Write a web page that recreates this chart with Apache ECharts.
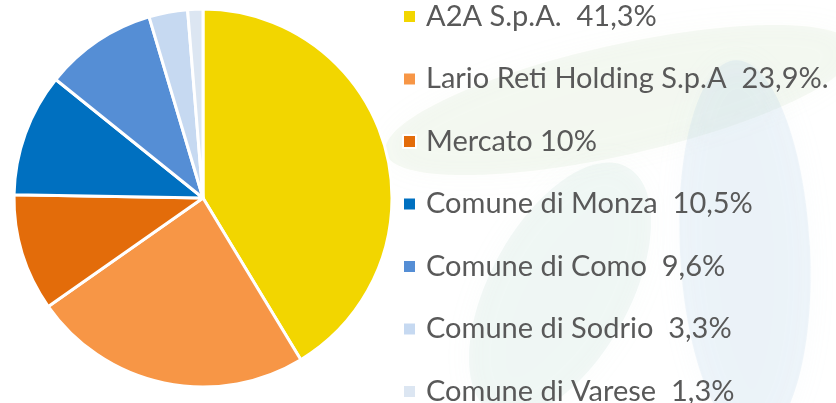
<!DOCTYPE html>
<html>
<head>
<meta charset="utf-8">
<script src="https://cdn.jsdelivr.net/npm/echarts@6/dist/echarts.min.js"></script>
<style>
    html, body { margin:0; padding:0; background:#fff; }
    #main { width:836px; height:403px; }
</style>
</head>
<body>
<div id="main"></div>
<script>
    // dati della composizione societaria
    var categories = [
        'A2A S.p.A.  41,3%',
        'Lario Reti Holding S.p.A  23,9%.',
        'Mercato 10%',
        'Comune di Monza  10,5%',
        'Comune di Como  9,6%',
        'Comune di Sodrio  3,3%',
        'Comune di Varese  1,3%'
    ];
    var values = [41.3, 23.9, 10, 10.5, 9.6, 3.3, 1.3];
    var colors = ['#F2D600', '#F79646', '#E36C0A', '#0070C0', '#558ED5', '#C6D9F1', '#DCE6F2'];

    var myChart = echarts.init(document.getElementById('main'));
    var pieData = [];
    for (var i = 0; i < categories.length; i++) {
        pieData.push({ name: categories[i], value: values[i] });
    }
    myChart.setOption({
        animation: false,
        color: colors,
        // filigrana tenue sullo sfondo
        graphic: [
            { type: 'ellipse', x: 620, y: 100, rotation: 0.22, z: 0, shape: { cx: 0, cy: 0, rx: 240, ry: 55 }, style: { fill: 'rgba(200,222,190,0.18)', shadowBlur: 30, shadowColor: 'rgba(200,222,190,0.3)' } },
            { type: 'ellipse', x: 560, y: 290, rotation: -0.5, z: 0, shape: { cx: 0, cy: 0, rx: 70, ry: 140 }, style: { fill: 'rgba(185,215,205,0.18)', shadowBlur: 30, shadowColor: 'rgba(185,215,205,0.3)' } },
            { type: 'ellipse', x: 745, y: 250, rotation: 0.05, z: 0, shape: { cx: 0, cy: 0, rx: 65, ry: 190 }, style: { fill: 'rgba(180,210,232,0.22)', shadowBlur: 30, shadowColor: 'rgba(180,210,232,0.3)' } }
        ],
        legend: {
            orient: 'vertical',
            left: 402,
            top: 2,
            height: 420,
            padding: 0,
            icon: 'rect',
            itemWidth: 13,
            itemHeight: 13,
            itemGap: 33.5,
            selectedMode: false,
            data: categories,
            textStyle: {
                fontFamily: 'Lato',
                fontSize: 29,
                color: '#595959',
                lineHeight: 28,
                padding: [0, 0, 0, 5]
            }
        },
        series: [{
            type: 'pie',
            center: [203, 198],
            radius: [0, 189],
            startAngle: 90,
            label: { show: false },
            labelLine: { show: false },
            itemStyle: { borderColor: '#fff', borderWidth: 3 },
            data: pieData
        }]
    });
</script>
</body>
</html>
